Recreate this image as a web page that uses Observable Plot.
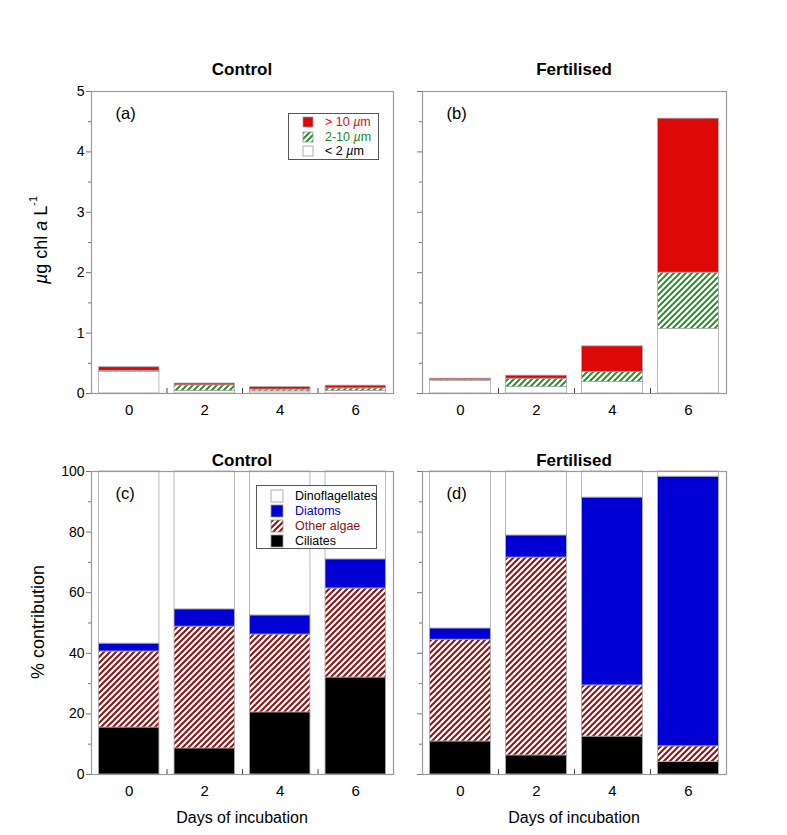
<!DOCTYPE html>
<html>
<head>
<meta charset="utf-8">
<script src="https://cdn.jsdelivr.net/npm/d3@7"></script>
<script src="https://cdn.jsdelivr.net/npm/@observablehq/plot@0.6"></script>
<style>
  html, body { margin: 0; padding: 0; background: #fff; }
  #fig { position: relative; width: 787px; height: 835px; font-family: "Liberation Sans", Arial, Helvetica, sans-serif; color: #000; }
  .abs { position: absolute; }
  .title { font-weight: bold; font-size: 17px; text-align: center; width: 200px; line-height: 20px; }
  .xlab { font-size: 16px; text-align: center; width: 240px; line-height: 18px; }
  .ylab { font-size: 18px; white-space: nowrap; transform: translate(-50%, -50%) rotate(-90deg); line-height: 20px; }
  .legend { border: 1px solid #555; background: #fff; font-size: 12.5px; }
  .legend .row { position: absolute; display: flex; align-items: center; white-space: nowrap; }
  .legend svg { display: block; }
</style>
</head>
<body>
<div id="fig"></div>
<svg width="0" height="0" style="position:absolute">
  <defs>
    <pattern id="hatchGreen" patternUnits="userSpaceOnUse" width="6" height="6">
      <rect width="6" height="6" fill="#fff"/>
      <path d="M-1,1 l2,-2 M0,6 l6,-6 M5,7 l2,-2" stroke="#1b8a1b" stroke-width="1.9"/>
    </pattern>
    <pattern id="hatchRed" patternUnits="userSpaceOnUse" width="6" height="6">
      <rect width="6" height="6" fill="#fff"/>
      <path d="M-1,1 l2,-2 M0,6 l6,-6 M5,7 l2,-2" stroke="#8b1414" stroke-width="2"/>
    </pattern>
  </defs>
</svg>
<script>
// ---------- data ----------
const days = [0, 2, 4, 6];
const sizeClasses = ["> 10 µm", "2-10 µm", "< 2 µm"];
const groups = ["Dinoflagellates", "Diatoms", "Other algae", "Ciliates"];

// (a) Control, µg chl a L-1, by size fraction
const ctrlLt2   = [0.36, 0.04, 0.035, 0.04];
const ctrl2to10 = [0.015, 0.095, 0.03, 0.045];
const ctrlGt10  = [0.06, 0.03, 0.04, 0.045];
// (b) Fertilised
const fertLt2   = [0.21, 0.105, 0.19, 1.07];
const fert2to10 = [0.01, 0.14, 0.165, 0.93];
const fertGt10  = [0.025, 0.05, 0.425, 2.55];

// (c) Control, % contribution
const ctrlCiliates = [15.5, 8.6, 20.5, 32.0];
const ctrlOther    = [25.1, 40.2, 25.7, 29.4];
const ctrlDiatoms  = [2.6, 5.7, 6.3, 9.6];
const ctrlDino     = [56.8, 45.5, 47.5, 29.0];
// (d) Fertilised, % contribution
const fertCiliates = [10.9, 6.3, 12.5, 4.1];
const fertOther    = [33.6, 65.3, 16.9, 5.2];
const fertDiatoms  = [3.7, 7.3, 62.0, 89.0];
const fertDino     = [51.8, 21.1, 8.6, 1.7];

// ---------- styling ----------
const C = {
  red: "#dd0808", green: "url(#hatchGreen)", white: "#ffffff",
  blue: "#0000d4", hatchRed: "url(#hatchRed)", black: "#000000"
};

function stack(series) {
  const rows = [];
  days.forEach((d, i) => {
    let acc = 0;
    for (const s of series) {
      const v = s.values[i];
      rows.push({day: d, y1: acc, y2: acc + v, fill: s.fill});
      acc += v;
    }
  });
  return rows;
}

const rowsA = stack([{values: ctrlLt2, fill: C.white}, {values: ctrl2to10, fill: C.green}, {values: ctrlGt10, fill: C.red}]);
const rowsB = stack([{values: fertLt2, fill: C.white}, {values: fert2to10, fill: C.green}, {values: fertGt10, fill: C.red}]);
const rowsC = stack([{values: ctrlCiliates, fill: C.black}, {values: ctrlOther, fill: C.hatchRed}, {values: ctrlDiatoms, fill: C.blue}, {values: ctrlDino, fill: C.white}]);
const rowsD = stack([{values: fertCiliates, fill: C.black}, {values: fertOther, fill: C.hatchRed}, {values: fertDiatoms, fill: C.blue}, {values: fertDino, fill: C.white}]);

const font = '"Liberation Sans", Arial, Helvetica, sans-serif';

function panel(o) {
  const svg = Plot.plot({
    width: o.width, height: o.height,
    marginLeft: o.ml, marginRight: o.mr, marginTop: o.mt, marginBottom: o.mb,
    style: {fontFamily: font, fontSize: "14px", color: "#000", background: "transparent", overflow: "visible"},
    x: {domain: [-1, 7], axis: null},
    y: {domain: o.yDomain, axis: null},
    color: {type: "identity"},
    marks: [
      Plot.rectY(o.rows, {x1: d => d.day - 0.8, x2: d => d.day + 0.8, y1: "y1", y2: "y2", fill: "fill", stroke: "#a8a8a8", strokeWidth: 0.8}),
      Plot.frame({stroke: "#9a9a9a", strokeWidth: 1.2}),
      Plot.axisY({ticks: o.major, tickSize: 5, tickPadding: 2, stroke: "#777", fontSize: 14, tickFormat: o.labels ? (d => String(d)) : (() => "")}),
      Plot.axisY({ticks: o.minor, tickSize: 3, stroke: "#777", tickFormat: () => ""}),
      Plot.axisX({ticks: days, tickSize: 0, tickPadding: 11, fontSize: 15, tickFormat: d => String(d)}),
      Plot.ruleX([1, 3, 5], {y1: o.yDomain[0], y2: o.tickLen, stroke: "#444", strokeWidth: 1}),
      Plot.text([o.tag], {frameAnchor: "top-left", dx: 24, dy: 22, textAnchor: "start", lineAnchor: "middle", fontSize: 16.5})
    ]
  });
  svg.style.position = "absolute";
  svg.style.left = o.left + "px";
  svg.style.top = o.top + "px";
  return svg;
}

const fig = document.getElementById("fig");
const topCfg = {yDomain: [0, 5], major: [0, 1, 2, 3, 4, 5], minor: [0.5, 1.5, 2.5, 3.5, 4.5], tickLen: 0.08, height: 350, top: 80, mt: 11, mb: 37};
const botCfg = {yDomain: [0, 100], major: [0, 20, 40, 60, 80, 100], minor: [10, 30, 50, 70, 90], tickLen: 1.6, height: 370, top: 450, mt: 21, mb: 46};
const leftCfg = {left: 30, width: 375, ml: 61, mr: 12, labels: true};
const rightCfg = {left: 405, width: 335, ml: 17, mr: 14, labels: false};

fig.appendChild(panel({...topCfg, ...leftCfg, rows: rowsA, tag: "(a)"}));
fig.appendChild(panel({...topCfg, ...rightCfg, rows: rowsB, tag: "(b)"}));
fig.appendChild(panel({...botCfg, ...leftCfg, rows: rowsC, tag: "(c)"}));
fig.appendChild(panel({...botCfg, ...rightCfg, rows: rowsD, tag: "(d)"}));

function addDiv(cls, html, left, top, extra) {
  const d = document.createElement("div");
  d.className = "abs " + cls;
  d.innerHTML = html;
  d.style.left = left + "px";
  d.style.top = top + "px";
  if (extra) Object.assign(d.style, extra);
  fig.appendChild(d);
  return d;
}

// titles
addDiv("title", "Control", 142, 60);
addDiv("title", "Fertilised", 474, 60);
addDiv("title", "Control", 142, 451);
addDiv("title", "Fertilised", 474, 451);
// x labels
addDiv("xlab", "Days of incubation", 122, 809);
addDiv("xlab", "Days of incubation", 454, 809);
// y labels
addDiv("ylab", '<i>µ</i>g chl <i>a</i> L<sup style="font-size:11px;position:relative;top:-3px">-1</sup>', 38, 240);
addDiv("ylab", "% contribution", 38, 622);

// legends
function legend(items, left, top, w, h, sw, textX, rowYs) {
  const box = addDiv("legend", "", left, top, {width: w + "px", height: h + "px"});
  items.forEach((it, i) => {
    const r = document.createElement("div");
    r.className = "row";
    r.style.left = "0px";
    r.style.top = (rowYs[i] - 8) + "px";
    r.style.height = "16px";
    r.innerHTML = `<svg width="${textX}" height="16" style="flex:none"><rect x="${textX - sw - 12}" y="${8 - sw / 2}" width="${sw}" height="${sw}" fill="${it.fill}" stroke="#999" stroke-width="0.8"/></svg><span style="color:${it.color}">${it.label}</span>`;
    box.appendChild(r);
  });
}
legend([
  {label: "&gt; 10 <i>µ</i>m", fill: C.red, color: "#dd0808"},
  {label: "2-10 <i>µ</i>m", fill: C.green, color: "#1b8a1b"},
  {label: "&lt; 2 <i>µ</i>m", fill: C.white, color: "#000"}
], 288, 113, 89, 45, 10, 36, [8, 23, 37]);
legend([
  {label: "Dinoflagellates", fill: C.white, color: "#000"},
  {label: "Diatoms", fill: C.blue, color: "#0000d4"},
  {label: "Other algae", fill: C.hatchRed, color: "#8b1414"},
  {label: "Ciliates", fill: C.black, color: "#000"}
], 256, 485, 119, 62, 12, 38, [10, 25, 40, 55]);
</script>
</body>
</html>
